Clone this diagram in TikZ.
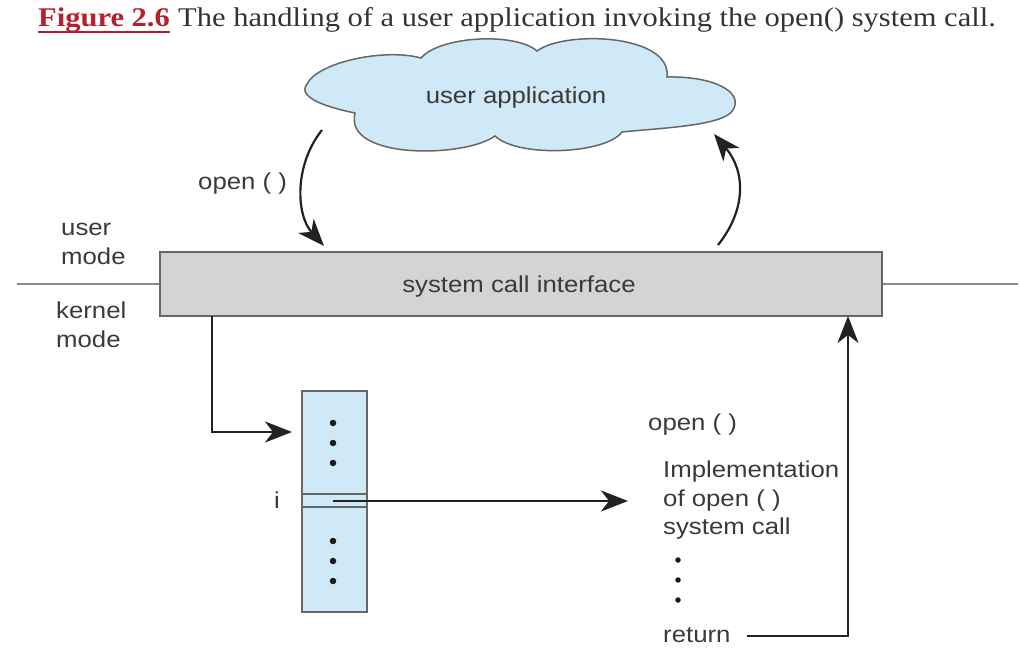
\documentclass[tikz,border=0pt]{standalone}
\usepackage{fontspec}
\usetikzlibrary{arrows.meta}
\newfontfamily\dgfont[FakeStretch=1.12]{Liberation Sans}
\newfontfamily\capfont[FakeStretch=1.13]{Liberation Serif}
\definecolor{cloudblue}{HTML}{CFE9F7}
\definecolor{barfill}{HTML}{D4D4D6}
\definecolor{edgegray}{HTML}{666666}
\definecolor{rulegray}{HTML}{8A8A8A}
\definecolor{linedark}{HTML}{222222}
\definecolor{txtgray}{HTML}{3A3A3A}
\definecolor{capred}{HTML}{B5202E}
\definecolor{capgray}{HTML}{333333}
\begin{document}
\begin{tikzpicture}[x=1pt,y=-1pt,
  lbl/.style={font=\dgfont\fontsize{23}{28.5}\selectfont, text=txtgray, inner sep=0pt},
  conn/.style={line width=2.2pt, draw=linedark},
  arr/.style={conn, -{Stealth[length=27pt,width=21pt,inset=8pt]}},
  dotn/.style={circle, fill=black!90, inner sep=0pt, minimum size=6.5pt},
  capt/.style={font=\capfont\fontsize{27}{30}\selectfont, inner sep=0pt}]
\useasboundingbox (0,0) rectangle (1020,652);

% caption
\node[capt, anchor=base west, text=capred] (fig) at (38,27) {\bfseries Figure 2.6};
\node[capt, anchor=base west, text=capgray] (cap) at ([xshift=8pt]fig.base east) {The handling of a user application invoking the open() system call.};
\draw[capred, line width=2pt] ([yshift=-5pt]fig.base west) -- ([yshift=-5pt]fig.base east);

% cloud
\draw[draw=edgegray, line width=1.5pt, fill=cloudblue]
  (355,113) .. controls (330,108) and (296,98) .. (307,84)
  .. controls (318,62) and (385,48) .. (421,58)
  .. controls (440,36) and (515,32) .. (537,51)
  .. controls (565,30) and (672,34) .. (667,77)
  .. controls (714,76) and (744,92) .. (733,110)
  .. controls (724,126) and (660,128) .. (622,132)
  .. controls (606,154) and (518,158) .. (495,136)
  .. controls (465,158) and (343,160) .. cycle;
\node[lbl, anchor=base] (app) at (516,104) {user application};

% system call interface bar
\node[draw=edgegray, line width=1.5pt, fill=barfill, minimum width=722pt, minimum height=64pt, inner sep=0pt] (bar) at (521,284) {};
\node[lbl, anchor=base] (sci) at (519,293) {system call interface};
\coordinate (lend) at (17,284);
\coordinate (rend) at (1018,284);
\draw[rulegray, line width=1.5pt] (lend) -- (bar.west);
\draw[rulegray, line width=1.5pt] (bar.east) -- (rend);

% mode labels
\node[lbl, anchor=base west] (um1) at (61,236) {user};
\node[lbl, anchor=base west] (um2) at (61,265) {mode};
\node[lbl, anchor=base west] (km1) at (56,319) {kernel};
\node[lbl, anchor=base west] (km2) at (56,347) {mode};

% open() call arrows
\coordinate (oa) at (322,130);
\coordinate (ob) at (324,246);
\coordinate (ra) at (718,245);
\coordinate (rb) at (714,134);
\draw[arr] (oa) .. controls (294,165) and (296,215) .. (ob);
\draw[arr] (ra) .. controls (746,210) and (746,172) .. (rb);
\node[lbl, anchor=base west] (open1) at (198,190) {open ( )};

% table
\node[draw=edgegray, line width=1.3pt, fill=cloudblue, minimum width=65pt, minimum height=221pt, inner sep=0pt] (tab) at (334.5,501.5) {};
\coordinate (r1l) at (302,494); \coordinate (r1r) at (367,494);
\coordinate (r2l) at (302,507); \coordinate (r2r) at (367,507);
\draw[edgegray, line width=1.3pt] (r1l) -- (r1r);
\draw[edgegray, line width=1.3pt] (r2l) -- (r2r);
\foreach \yy [count=\k] in {423,443,463,541,561,581}
  \node[dotn] (td\k) at (333,\yy) {};
\node[lbl, anchor=base] (ilbl) at (277,508) {i};

% kernel arrow to table
\coordinate (k0) at (212,316);
\coordinate (k1) at (292,432);
\draw[arr] (k0) |- (k1);

% arrow from entry i to implementation
\coordinate (ia) at (333,501);
\coordinate (ib) at (628,501);
\draw[arr] (ia) -- (ib);

% implementation text
\node[lbl, anchor=base west] (open2) at (648,430) {open ( )};
\node[lbl, anchor=base west] (imp1) at (663,477) {Implementation};
\node[lbl, anchor=base west] (imp2) at (663,506) {of open ( )};
\node[lbl, anchor=base west] (imp3) at (663,534) {system call};
\foreach \yy [count=\k] in {560,580,600}
  \node[dotn, minimum size=5.5pt] (id\k) at (678,\yy) {};
\node[lbl, anchor=base west] (ret) at (663,642) {return};

% return arrow
\coordinate (rt0) at (747,636);
\coordinate (up) at (848,316);
\draw[arr] (rt0) -| (up);
\end{tikzpicture}
\end{document}
